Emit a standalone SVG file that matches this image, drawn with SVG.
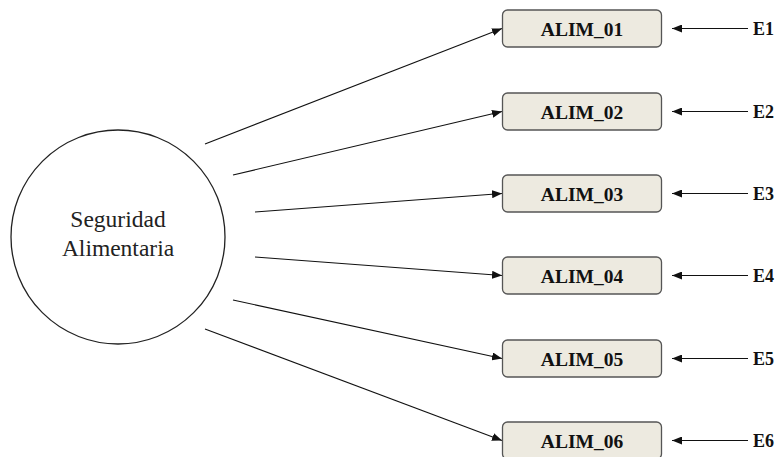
<svg xmlns="http://www.w3.org/2000/svg" width="777" height="457" viewBox="0 0 777 457">
<style>
.box{fill:#EDEAE0;stroke:#555;stroke-width:1.3}
.lbl{font-weight:bold;font-size:19.5px;fill:#111;text-anchor:middle}
.elbl{font-weight:bold;font-size:18px;fill:#111}
.conn line{stroke:#111;stroke-width:1.1;fill:none}
.ctext{font-size:23.5px;fill:#222;text-anchor:middle}
</style>
<defs>
<marker id="ah" viewBox="0 0 10 8" refX="10" refY="4" markerWidth="10" markerHeight="8" markerUnits="userSpaceOnUse" orient="auto">
<path d="M0,0 L10,4 L0,8 Z" fill="#111"/>
</marker>
</defs>
<rect width="777" height="457" fill="#fff"/>
<g font-family="'Liberation Serif', 'DejaVu Serif', serif">
<g id="factor">
<circle cx="118" cy="237" r="107" fill="#fff" stroke="#222" stroke-width="1.3"/>
<text class="ctext" x="118" y="227">Seguridad</text>
<text class="ctext" x="118" y="256">Alimentaria</text>
</g>
<g class="conn" id="connectors">
<line x1="205" y1="144" x2="502" y2="28.5" marker-end="url(#ah)"/>
<line x1="233" y1="175" x2="502" y2="111.5" marker-end="url(#ah)"/>
<line x1="255" y1="212" x2="502" y2="193.5" marker-end="url(#ah)"/>
<line x1="255" y1="257" x2="502" y2="275.5" marker-end="url(#ah)"/>
<line x1="233" y1="300" x2="502" y2="358.5" marker-end="url(#ah)"/>
<line x1="205" y1="329" x2="502" y2="440.5" marker-end="url(#ah)"/>
<line x1="748" y1="28.5" x2="672" y2="28.5" marker-end="url(#ah)"/>
<line x1="748" y1="111.5" x2="672" y2="111.5" marker-end="url(#ah)"/>
<line x1="748" y1="193.5" x2="672" y2="193.5" marker-end="url(#ah)"/>
<line x1="748" y1="275.5" x2="672" y2="275.5" marker-end="url(#ah)"/>
<line x1="748" y1="358.5" x2="672" y2="358.5" marker-end="url(#ah)"/>
<line x1="748" y1="440.5" x2="672" y2="440.5" marker-end="url(#ah)"/>
</g>
<g id="alim01"><rect class="box" x="502.5" y="10" width="159" height="37" rx="5"/><text class="lbl" x="582" y="35.5">ALIM_01</text></g>
<g id="alim02"><rect class="box" x="502.5" y="93" width="159" height="37" rx="5"/><text class="lbl" x="582" y="118.5">ALIM_02</text></g>
<g id="alim03"><rect class="box" x="502.5" y="175" width="159" height="37" rx="5"/><text class="lbl" x="582" y="200.5">ALIM_03</text></g>
<g id="alim04"><rect class="box" x="502.5" y="257" width="159" height="37" rx="5"/><text class="lbl" x="582" y="282.5">ALIM_04</text></g>
<g id="alim05"><rect class="box" x="502.5" y="340" width="159" height="37" rx="5"/><text class="lbl" x="582" y="365.5">ALIM_05</text></g>
<g id="alim06"><rect class="box" x="502.5" y="422" width="159" height="37" rx="5"/><text class="lbl" x="582" y="447.5">ALIM_06</text></g>
<g id="e1"><text class="elbl" x="753" y="34.5">E1</text></g>
<g id="e2"><text class="elbl" x="753" y="117.5">E2</text></g>
<g id="e3"><text class="elbl" x="753" y="199.5">E3</text></g>
<g id="e4"><text class="elbl" x="753" y="281.5">E4</text></g>
<g id="e5"><text class="elbl" x="753" y="364.5">E5</text></g>
<g id="e6"><text class="elbl" x="753" y="446.5">E6</text></g>
</g>
</svg>
